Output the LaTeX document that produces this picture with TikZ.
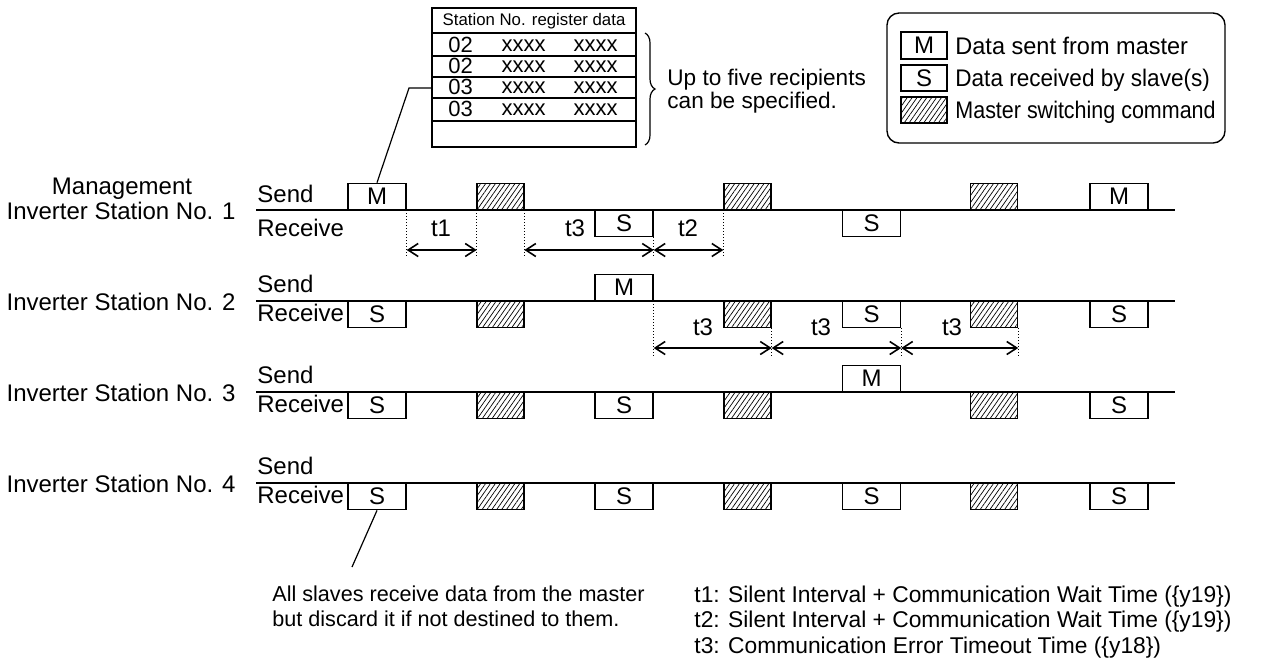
\documentclass[tikz,border=0pt]{standalone}
\usepackage{fontspec}
\setmainfont{Liberation Sans}
\usetikzlibrary{arrows.meta,patterns.meta,decorations.pathreplacing,calc}
\newcommand\fmain{\fontsize{12}{14}\selectfont}
\newcommand\fmid{\fontsize{11.3}{13}\selectfont}
\newcommand\fsm{\fontsize{8.4}{10}\selectfont}
\newcommand\ftab{\fontsize{11}{12}\selectfont}
\newcommand\fbotl{\fontsize{10.8}{13}\selectfont}
\newcommand\fbotr{\fontsize{11.4}{13}\selectfont}
\begin{document}
\begin{tikzpicture}[x=0.5pt,y=-0.5pt,
 msg/.style={draw,line width=0.7pt,minimum width=29pt,minimum height=13pt,inner sep=0pt,font=\fmain},
 hat/.style={draw,line width=0.7pt,minimum width=23.5pt,minimum height=13pt,inner sep=0pt,pattern={Lines[angle=55,distance=2pt,line width=0.35pt]}},
 tl/.style={line width=0.7pt},
 dot/.style={densely dotted,line width=0.5pt},
 dim/.style={line width=0.8pt,{Straight Barb[length=5pt,width=6.5pt]}-{Straight Barb[length=5pt,width=6.5pt]}},
 lab/.style={font=\fmain,inner sep=0pt},
 lead/.style={line width=0.6pt},
]
\useasboundingbox (0,0) rectangle (1267,661);

% ---------- station labels ----------
\node[lab,anchor=base] (mg) at (122,194) {Management};
\node[lab,anchor=base east] (st1) at (236,219) {Inverter Station No. 1};
\node[lab,anchor=base east] (st2) at (236,310) {Inverter Station No. 2};
\node[lab,anchor=base east] (st3) at (236,401) {Inverter Station No. 3};
\node[lab,anchor=base east] (st4) at (236,492) {Inverter Station No. 4};

% ---------- timelines ----------
\foreach \yy in {210,301,392,483}{
  \draw[tl] (256,\yy) -- (1175,\yy);
}
\node[lab,anchor=base west] (s1) at (257,202) {Send};
\node[lab,anchor=base west] (rc1) at (257,236) {Receive};
\node[lab,anchor=base west] (s2) at (257,292) {Send};
\node[lab,anchor=base west] (rc2) at (257,321) {Receive};
\node[lab,anchor=base west] (s3) at (257,383) {Send};
\node[lab,anchor=base west] (rc3) at (257,412) {Receive};
\node[lab,anchor=base west] (s4) at (257,474) {Send};
\node[lab,anchor=base west] (rc4) at (257,503) {Receive};

% ---------- row 1 ----------
\node[msg,anchor=south] (r1a) at (377,210) {M};
\node[hat,anchor=south] (r1b) at (500.5,210) {};
\node[msg,anchor=north] (r1c) at (624,210) {S};
\node[hat,anchor=south] (r1d) at (747.5,210) {};
\node[msg,anchor=north] (r1e) at (871.5,210) {S};
\node[hat,anchor=south] (r1f) at (994,210) {};
\node[msg,anchor=south] (r1g) at (1119,210) {M};

% ---------- row 2 ----------
\node[msg,anchor=north] (r2a) at (377,301) {S};
\node[hat,anchor=north] (r2b) at (500.5,301) {};
\node[msg,anchor=south] (r2c) at (624,301) {M};
\node[hat,anchor=north] (r2d) at (747.5,301) {};
\node[msg,anchor=north] (r2e) at (871.5,301) {S};
\node[hat,anchor=north] (r2f) at (994,301) {};
\node[msg,anchor=north] (r2g) at (1119,301) {S};

% ---------- row 3 ----------
\node[msg,anchor=north] (r3a) at (377,392) {S};
\node[hat,anchor=north] (r3b) at (500.5,392) {};
\node[msg,anchor=north] (r3c) at (624,392) {S};
\node[hat,anchor=north] (r3d) at (747.5,392) {};
\node[msg,anchor=south] (r3e) at (871.5,392) {M};
\node[hat,anchor=north] (r3f) at (994,392) {};
\node[msg,anchor=north] (r3g) at (1119,392) {S};

% ---------- row 4 ----------
\node[msg,anchor=north] (r4a) at (377,483) {S};
\node[hat,anchor=north] (r4b) at (500.5,483) {};
\node[msg,anchor=north] (r4c) at (624,483) {S};
\node[hat,anchor=north] (r4d) at (747.5,483) {};
\node[msg,anchor=north] (r4e) at (871.5,483) {S};
\node[hat,anchor=north] (r4f) at (994,483) {};
\node[msg,anchor=north] (r4g) at (1119,483) {S};

% ---------- timing dimensions, row 1 ----------
\coordinate (y1) at (0,250);
\draw[dot] (r1a.south east) -- ++(0,46);
\draw[dot] (r1b.south west) -- ++(0,46);
\draw[dot] (r1b.south east) -- ++(0,46);
\draw[dot] (r1c.south east) -- ++(0,20);
\draw[dot] (r1d.south west) -- ++(0,46);
\draw[dim] (r1a.south east |- y1) -- (r1b.south west |- y1);
\draw[dim] (r1b.south east |- y1) -- (r1c.south east |- y1);
\draw[dim] (r1c.south east |- y1) -- (r1d.south west |- y1);
\node[lab] (t1) at (441,228) {t1};
\node[lab] (t3a) at (575,228) {t3};
\node[lab] (t2) at (688,228) {t2};

% ---------- timing dimensions, row 2 ----------
\coordinate (y2) at (0,348);
\draw[dot] (r2c.south east) -- ++(0,55);
\draw[dot] (r2d.south east) -- ++(0,28);
\draw[dot] (r2e.south east) -- ++(0,28);
\draw[dot] (r2f.south east) -- ++(0,28);
\draw[dim] (r2c.south east |- y2) -- (r2d.south east |- y2);
\draw[dim] (r2d.south east |- y2) -- (r2e.south east |- y2);
\draw[dim] (r2e.south east |- y2) -- (r2f.south east |- y2);
\node[lab] (t3b) at (703,327) {t3};
\node[lab] (t3c) at (821,327) {t3};
\node[lab] (t3d) at (952,327) {t3};

% ---------- register table ----------
\node[draw,line width=0.7pt,minimum width=102pt,minimum height=69.5pt,inner sep=0pt] (reg) at (534,77.5) {};
\foreach \yy in {33,56,77,98,121}{
  \draw[line width=0.6pt] (432,\yy) -- (636,\yy);
}
\node[font=\fsm,inner sep=0pt] (hdr) at (534,21) {Station No. register data};
\foreach \yy/\num [count=\i] in {44.5/02,66/02,87/03,108.5/03}{
  \node[font=\ftab,inner sep=0pt] (n\i) at (460.5,\yy) {\num};
  \node[font=\ftab,inner sep=0pt] (xa\i) at (523.5,\yy+1) {xxxx};
  \node[font=\ftab,inner sep=0pt] (xb\i) at (595.5,\yy+1) {xxxx};
}
\coordinate (k1) at (409,88);
\draw[lead] (r1a.north) -- (k1) -- (reg.west |- k1);

\draw[line width=0.6pt,decorate,decoration={brace,amplitude=5pt}] (645,33) -- (645,145);
\node[font=\fmid,anchor=base west,inner sep=0pt] (up1) at (667,85) {Up to five recipients};
\node[font=\fmid,anchor=base west,inner sep=0pt] (up2) at (667,108) {can be specified.};

% ---------- legend ----------
\node[draw,rounded corners=6pt,line width=0.7pt,minimum width=169pt,minimum height=65pt,inner sep=0pt] (leg) at (1056,78) {};
\node[msg,minimum width=23pt,minimum height=13.5pt] (lm) at (924,45.5) {M};
\node[msg,minimum width=23pt,minimum height=13pt] (ls) at (924,78) {S};
\node[hat,minimum width=23pt,minimum height=13pt] (lh) at (924,110) {};
\node[lab,anchor=base west] (lmt) at (955,54) {\scalebox{0.98}[1]{Data sent from master}};
\node[lab,anchor=base west] (lst) at (955,86) {\scalebox{0.94}[1]{Data received by slave(s)}};
\node[lab,anchor=base west] (lht) at (955,118) {\scalebox{0.895}[1]{Master switching command}};

% ---------- bottom notes ----------
\coordinate (k2) at (352,567);
\draw[lead] (r4a.south) -- (k2);
\node[font=\fbotl,anchor=base west,inner sep=0pt] (al1) at (272,601) {All slaves receive data from the master};
\node[font=\fbotl,anchor=base west,inner sep=0pt] (al2) at (272,626) {but discard it if not destined to them.};
\node[font=\fbotr,anchor=base west,inner sep=0pt] (nt1) at (694,602) {t1: Silent Interval + Communication Wait Time (\{y19\})};
\node[font=\fbotr,anchor=base west,inner sep=0pt] (nt2) at (694,627) {t2: Silent Interval + Communication Wait Time (\{y19\})};
\node[font=\fbotr,anchor=base west,inner sep=0pt] (nt3) at (694,653) {t3: Communication Error Timeout Time (\{y18\})};
\end{tikzpicture}
\end{document}
